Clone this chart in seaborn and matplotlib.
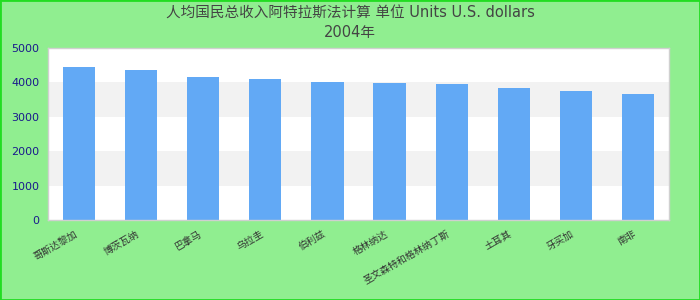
import matplotlib
matplotlib.use("Agg")
import matplotlib.pyplot as plt
import seaborn as sns
import pandas as pd
from matplotlib.patches import Rectangle

countries = ["哥斯达黎加", "博茨瓦纳", "巴拿马", "乌拉圭", "伯利兹", "格林纳达",
             "圣文森特和格林纳丁斯", "土耳其", "牙买加", "南非"]
values = [4450, 4350, 4150, 4100, 4000, 3980, 3950, 3830, 3750, 3650]
yticks = [0, 1000, 2000, 3000, 4000, 5000]
title_line1 = "人均国民总收入阿特拉斯法计算 单位 Units U.S. dollars"
title_line2 = "2004年"

df = pd.DataFrame({"country": countries, "value": values})

sns.set_style("white")
plt.rcParams["font.family"] = ["DejaVu Sans", "Noto Sans CJK SC"]

fig = plt.figure(figsize=(7, 3), dpi=100, facecolor="#90ee90")
ax = fig.add_axes([48/700, 1-220/300, (669-48)/700, (220-48)/300])
ax.set_facecolor("white")

for lo in (1000, 3000):
    ax.axhspan(lo, lo + 1000, color="#f2f2f2", zorder=0, lw=0)

sns.barplot(data=df, x="country", y="value", color="#62a9f5", width=0.52,
            saturation=1, linewidth=0, ax=ax, zorder=2)

ax.set_ylim(0, 5000)
ax.set_yticks(yticks)
ax.set_yticklabels([str(t) for t in yticks], color="#1a1a8c", fontsize=8)
ax.set_xlabel("")
ax.set_ylabel("")
ax.tick_params(axis="both", length=0, pad=6)
plt.setp(ax.get_xticklabels(), rotation=30, ha="right", fontsize=7, color="#333333")
for s in ax.spines.values():
    s.set_color("#d0d0d0")
    s.set_linewidth(1)

fig.text(0.5, 1 - 13/300, title_line1, ha="center", va="center", fontsize=10.5, color="#444444")
fig.text(0.5, 1 - 33/300, title_line2, ha="center", va="center", fontsize=10.5, color="#444444")

fig.patches.append(Rectangle((0, 0), 1, 1, transform=fig.transFigure, fill=False,
                             edgecolor="#22dd22", linewidth=2))

fig.savefig("out.png", dpi=100, facecolor=fig.get_facecolor())
